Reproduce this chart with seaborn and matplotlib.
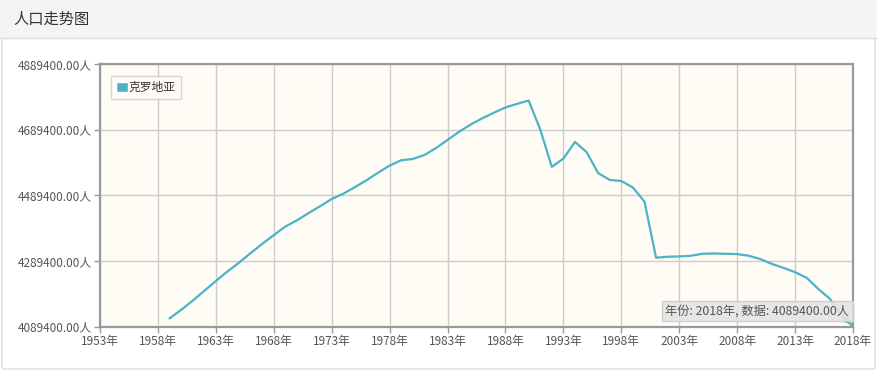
import pandas as pd
import matplotlib.pyplot as plt
import seaborn as sns
from matplotlib.patches import Rectangle, FancyBboxPatch, Patch
from matplotlib.lines import Line2D

# 克罗地亚 population
years = list(range(1959, 2019))
population = [
    4114000, 4140000, 4168000, 4198000, 4228000, 4257000, 4284000, 4313000,
    4341000, 4368000, 4394000, 4413000, 4435000, 4456000, 4478000, 4494000,
    4514000, 4535000, 4558000, 4580000, 4596000, 4600000, 4612000, 4633000,
    4658000, 4683000, 4705000, 4724000, 4741000, 4757000, 4768000, 4778000,
    4690000, 4576000, 4601000, 4652000, 4621000, 4557000, 4536000, 4533000,
    4513000, 4470000, 4299000, 4302000, 4303000, 4305000, 4311000, 4312000,
    4311000, 4310000, 4305000, 4295000, 4280000, 4268000, 4255000, 4238000,
    4204000, 4174000, 4125000, 4089400,
]
country = '克罗地亚'
x_ticks = list(range(1953, 2019, 5))
y_ticks = [4089400, 4289400, 4489400, 4689400, 4889400]

df = pd.DataFrame({'year': years, 'population': population, 'country': country})

line_color = '#4bb3c8'

sns.set_style('white')
plt.rcParams['font.family'] = ['Noto Sans CJK SC', 'DejaVu Sans']

W, H = 877, 373
fig = plt.figure(figsize=(W / 100, H / 100), dpi=100)

# panel frame + header bar (behind the axes)
fig.patches.append(FancyBboxPatch((2 / W, 4 / H), 873 / W, 365 / H,
                                  boxstyle='round,pad=0,rounding_size=0.004',
                                  transform=fig.transFigure, facecolor='white',
                                  edgecolor='#dddddd', lw=1, zorder=-3))
fig.patches.append(Rectangle((0, (H - 38) / H), 1, 38 / H, transform=fig.transFigure,
                             facecolor='#f4f4f4', edgecolor='none', zorder=-2))
fig.lines.append(Line2D([0, 1], [(H - 38) / H] * 2, transform=fig.transFigure,
                        color='#dddddd', lw=1, zorder=-1))
fig.text(13 / W, (H - 19) / H, '人口走势图', fontsize=11, color='#333333',
         va='center', ha='left')

ax = fig.add_axes([100 / W, (H - 326.5) / H, 753 / W, 262.5 / H])
ax.set_facecolor('#fffcf5')

sns.lineplot(data=df, x='year', y='population', hue='country',
             palette=[line_color], lw=1.6, ax=ax)

ax.set_xlim(1953, 2018)
ax.set_ylim(4089400, 4889400)
ax.set_xticks(x_ticks)
ax.set_xticklabels([f'{y}年' for y in x_ticks])
ax.set_yticks(y_ticks)
ax.set_yticklabels([f'{v:.2f}人' for v in y_ticks])
ax.set_xlabel('')
ax.set_ylabel('')
ax.grid(True, color='#cccccc', lw=1)
ax.tick_params(axis='both', length=4, width=1, color='#999999',
               labelsize=8.5, labelcolor='#555555', pad=2, direction='out')
ax.tick_params(bottom=True, left=True)
for s in ax.spines.values():
    s.set_color('#999999')
    s.set_linewidth(1.6)

leg = ax.legend(handles=[Patch(facecolor=line_color, edgecolor='white', lw=1)],
                labels=[country], loc='upper left',
                bbox_to_anchor=(0.014, 0.955), frameon=True,
                handlelength=1.0, handleheight=1.0, handletextpad=0.1,
                borderpad=0.45, borderaxespad=0, fontsize=8.5, fancybox=False)
leg.get_frame().set_edgecolor('#cccccc')
leg.get_frame().set_linewidth(1)
leg.get_frame().set_facecolor('#fffdf8')
for t in leg.get_texts():
    t.set_color('#333333')

# hover tooltip at the last point
ax.annotate('', xy=(years[-1], population[-1]), xytext=(-12, 12),
            textcoords='offset points',
            arrowprops=dict(arrowstyle='->', color=line_color, lw=1.2),
            annotation_clip=False)
ax.text(0.995, 0.035, f'年份: {years[-1]}年, 数据: {population[-1]:.2f}人',
        transform=ax.transAxes, ha='right', va='bottom', fontsize=8.8,
        color='#555555',
        bbox=dict(boxstyle='square,pad=0.3', facecolor='#e4e4e4',
                  edgecolor='#cccccc', alpha=0.9))

fig.savefig('out.png', dpi=100)
